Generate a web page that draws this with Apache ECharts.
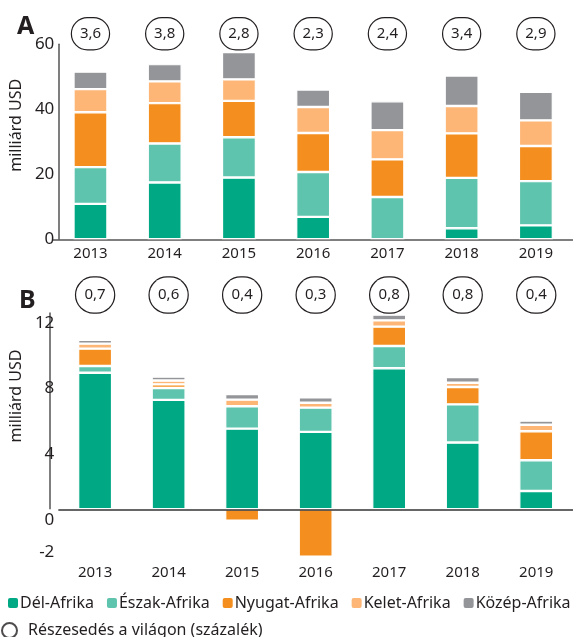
<!DOCTYPE html>
<html>
<head>
<meta charset="utf-8">
<script src="https://cdn.jsdelivr.net/npm/echarts@6/dist/echarts.min.js"></script>
<style>
html,body{margin:0;padding:0;background:#fff;}
#chart{width:573px;height:637px;}
</style>
</head>
<body>
<div id="chart"></div>
<script>
// ---- data ----
const years = ['2013', '2014', '2015', '2016', '2017', '2018', '2019'];
const seriesNames = ['Dél-Afrika', 'Észak-Afrika', 'Nyugat-Afrika', 'Kelet-Afrika', 'Közép-Afrika'];
const shareName = 'Részesedés a világon (százalék)';

// Panel A (milliárd USD)
const aDel    = [10.9, 17.5, 19.0, 6.9, -1.0, 3.4, 4.3];
const aEszak  = [11.3, 12.0, 12.4, 13.8, 13.0, 15.5, 13.6];
const aNyugat = [16.9, 12.4, 11.2, 12.0, 11.6, 13.7, 10.8];
const aKelet  = [7.1, 6.7, 6.6, 8.0, 9.0, 8.4, 7.9];
const aKozep  = [5.4, 5.3, 8.4, 5.4, 8.9, 9.4, 8.8];
const aShare  = [3.6, 3.8, 2.8, 2.3, 2.4, 3.4, 2.9];

// Panel B (milliárd USD)
const bDel    = [8.33, 6.67, 4.92, 4.72, 8.60, 4.07, 1.12];
const bEszak  = [0.41, 0.73, 1.36, 1.48, 1.36, 2.33, 1.87];
const bNyugat = [1.06, 0.22, -0.69, -2.89, 1.18, 1.06, 1.77];
const bKelet  = [0.30, 0.23, 0.41, 0.30, 0.38, 0.26, 0.40];
const bKozep  = [0.23, 0.24, 0.34, 0.33, 0.35, 0.35, 0.25];
const bShare  = [0.7, 0.6, 0.4, 0.3, 0.8, 0.8, 0.4];

const aTicks = [0, 20, 40, 60];
const bTicks = [-2, 0, 4, 8, 12];

// ---- styles ----
const colors = ['#00a884', '#5fc4ad', '#f48e1f', '#fdb676', '#939598'];
const FONT = 'Noto Sans';
const TXT = '#231f20';
const AXIS = '#555555';

const gridA = {left: 45, top: 44.3, width: 546, height: 195};
const gridB = {left: 48, top: 312.5, width: 541, height: 246};

const chart = echarts.init(document.getElementById('chart'));

function fmt(v) { return v.toFixed(1).replace('.', ','); }

function makeBars(datas, xi, yi, withZero) {
  return datas.map((d, i) => {
    const s = {
      name: seriesNames[i], type: 'bar', stack: 'p' + yi,
      xAxisIndex: xi, yAxisIndex: yi, data: d, barWidth: 34,
      itemStyle: {color: colors[i], borderColor: '#ffffff', borderWidth: 1.2},
      emphasis: {disabled: true}, animation: false
    };
    if (withZero && i === 0) {
      s.markLine = {
        silent: true, symbol: 'none', animation: false,
        label: {show: false},
        lineStyle: {color: '#333333', width: 1.5, type: 'solid'},
        data: [{yAxis: 0}]
      };
    }
    return s;
  });
}

const shareLabel = (arr, w, h) => ({
  interval: 0,
  formatter: (v, idx) => fmt(arr[idx]),
  fontFamily: FONT, fontSize: 15, color: TXT,
  width: w, height: h, lineHeight: h, align: 'center',
  backgroundColor: '#ffffff', borderColor: TXT, borderWidth: 1.2,
  borderRadius: Math.max(w, h) / 2
});

const option = {
  animation: false,
  textStyle: {fontFamily: FONT},
  title: [
    {text: 'A', left: 12, top: 9, textStyle: {fontFamily: FONT, fontSize: 25, fontWeight: 'bold', color: TXT}},
    {text: 'B', left: 14, top: 283, textStyle: {fontFamily: FONT, fontSize: 25, fontWeight: 'bold', color: TXT}}
  ],
  legend: [
    {
      data: seriesNames, left: 1, top: 590, width: 700, itemWidth: 12, itemHeight: 12, itemGap: 11,
      icon: 'roundRect', selectedMode: false,
      textStyle: {fontFamily: FONT, fontSize: 16, color: TXT, padding: [0, 0, 0, -4]}
    },
    {
      data: [shareName], left: -4, top: 617, itemWidth: 15, itemHeight: 15, selectedMode: false,
      textStyle: {fontFamily: FONT, fontSize: 16, color: TXT, padding: [0, 0, 0, 6]}
    }
  ],
  grid: [gridA, gridB],
  xAxis: [
    {
      type: 'category', gridIndex: 0, data: years, position: 'bottom',
      axisLine: {lineStyle: {color: AXIS, width: 1.5}}, axisTick: {show: false},
      axisLabel: {fontFamily: FONT, fontSize: 15, color: TXT, margin: 7, interval: 0}
    },
    {
      type: 'category', gridIndex: 0, data: years, position: 'top',
      axisLine: {show: false}, axisTick: {show: false},
      axisLabel: Object.assign(shareLabel(aShare, 37, 31), {margin: -5})
    },
    {
      type: 'category', gridIndex: 1, data: years, position: 'bottom',
      axisLine: {show: false, onZero: false}, axisTick: {show: false},
      axisLabel: {fontFamily: FONT, fontSize: 15, color: TXT, margin: 7, interval: 0}
    },
    {
      type: 'category', gridIndex: 1, data: years, position: 'top',
      axisLine: {show: false}, axisTick: {show: false},
      axisLabel: Object.assign(shareLabel(bShare, 38, 35), {margin: 0})
    }
  ],
  yAxis: [
    {
      type: 'value', gridIndex: 0, min: 0, max: 60, interval: 20, offset: -5,
      axisLine: {show: true, lineStyle: {color: AXIS, width: 1.5}}, axisTick: {show: false},
      splitLine: {show: false},
      axisLabel: {fontFamily: FONT, fontSize: 17, color: TXT, margin: 4, customValues: aTicks},
      name: 'milliárd USD', nameLocation: 'middle', nameGap: 22, nameRotate: 90,
      nameTextStyle: {fontFamily: FONT, fontSize: 16, color: TXT, padding: [0, 0, 0, 33]}
    },
    {
      type: 'value', gridIndex: 1, min: -3, max: 12, offset: -2,
      axisLine: {show: false}, axisTick: {show: false},
      splitLine: {show: false},
      axisLabel: {fontFamily: FONT, fontSize: 17, color: TXT, margin: 6, customValues: bTicks,
                  verticalAlign: 'top', lineHeight: 21},
      name: 'milliárd USD', nameLocation: 'middle', nameGap: 25, nameRotate: 90,
      nameTextStyle: {fontFamily: FONT, fontSize: 16, color: TXT, padding: [0, 0, 0, 79]}
    }
  ],
  series: [
    ...makeBars([aDel, aEszak, aNyugat, aKelet, aKozep], 0, 0, false),
    ...makeBars([bDel, bEszak, bNyugat, bKelet, bKozep], 2, 1, true),
    {
      name: shareName, type: 'scatter', xAxisIndex: 0, yAxisIndex: 0, data: [],
      symbol: 'circle',
      itemStyle: {color: '#ffffff', borderColor: TXT, borderWidth: 1.3}
    }
  ]
};
chart.setOption(option);

// y axis line of panel B runs from 0 to the top tick only
const yZero = chart.convertToPixel({yAxisIndex: 1}, 0);
const yTop = chart.convertToPixel({yAxisIndex: 1}, bTicks[bTicks.length - 1]);
const xAx = gridB.left + 2;
chart.setOption({
  graphic: [{
    type: 'line', silent: true,
    shape: {x1: xAx, y1: yZero, x2: xAx, y2: yTop},
    style: {stroke: AXIS, lineWidth: 1.5}
  }]
});
</script>
</body>
</html>
